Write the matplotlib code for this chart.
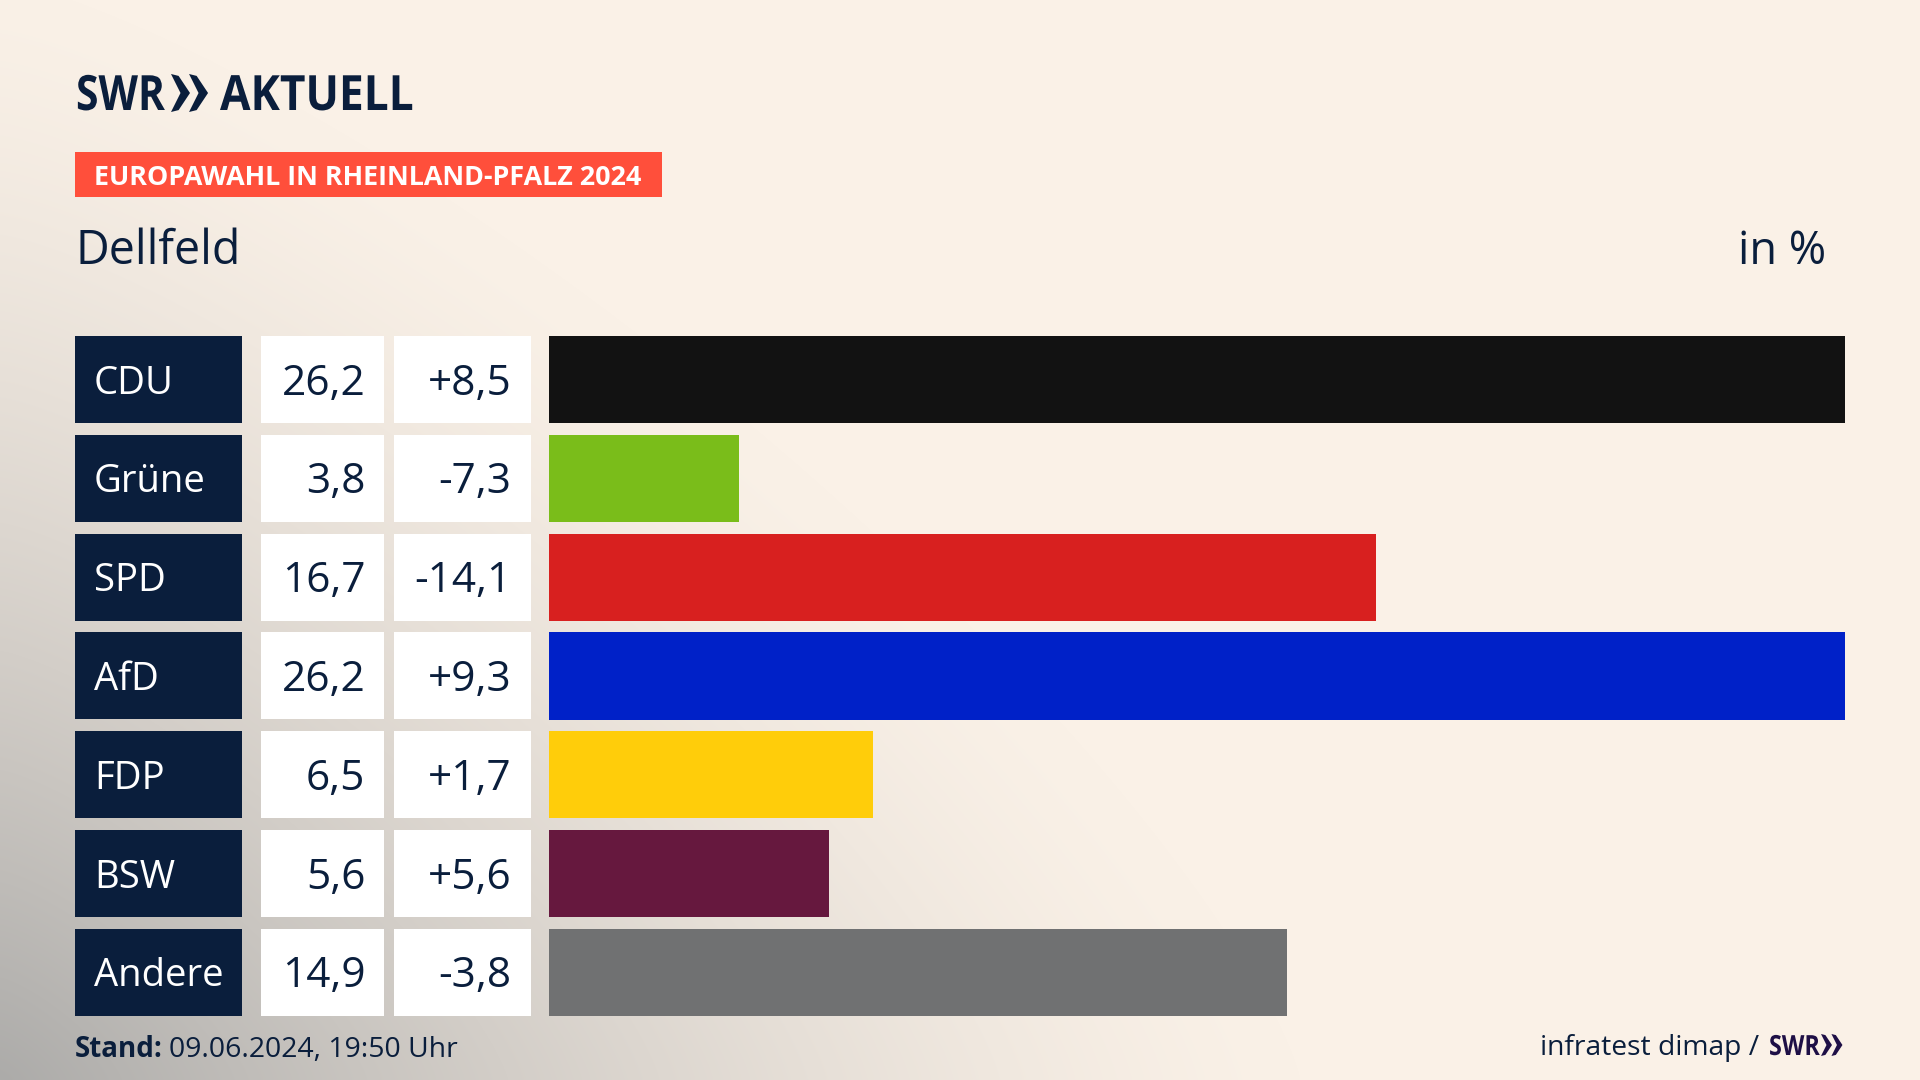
import matplotlib
matplotlib.use('Agg')
import matplotlib.pyplot as plt
from matplotlib.patches import Polygon, Rectangle
from matplotlib.patheffects import AbstractPathEffect
from matplotlib.transforms import Affine2D
import numpy as np

parties = ["CDU", "Grüne", "SPD", "AfD", "FDP", "BSW", "Andere"]
share_labels = ["26,2", "3,8", "16,7", "26,2", "6,5", "5,6", "14,9"]
change_labels = ["+8,5", "-7,3", "-14,1", "+9,3", "+1,7", "+5,6", "-3,8"]
# bar lengths, a bit finer than the printed labels
bar_values = [26.2, 3.84, 16.72, 26.2, 6.55, 5.66, 14.92]
colors = ["#121212", "#7ABD1A", "#D8201F", "#0021C8", "#FFCD0A", "#66183E", "#707172"]

NAVY = "#0A1E3C"
FONT = "Open Sans"
W, H = 1920, 1080

fig = plt.figure(figsize=(19.2, 10.8), dpi=100)

# overlay in pixel coords for background, labels and cells
ax = fig.add_axes([0, 0, 1, 1])
ax.set_xlim(0, W)
ax.set_ylim(H, 0)
ax.axis('off')

# background: cream with grey fade out of the lower left corner
yy, xx = np.mgrid[0:H, 0:W]
cream = np.array([250, 241, 231]) / 255
grey = np.array([172, 171, 169]) / 255
p = 1.3
dist = ((xx / 1300) ** p + ((H - yy) / 1100) ** p) ** (1 / p)
t = np.clip(1 - dist, 0, 1) ** 1.4
bg = cream[None, None, :] * (1 - t[..., None]) + grey[None, None, :] * t[..., None]
ax.imshow(bg, extent=(0, W, H, 0), aspect='auto', zorder=0)


class Squeeze(AbstractPathEffect):
    # narrows text horizontally around its left edge, the logo font is condensed
    def __init__(self, sx, x0):
        super().__init__()
        self.sx = sx
        self.x0 = x0

    def draw_path(self, renderer, gc, tpath, affine, rgbFace=None):
        squeeze = Affine2D().translate(-self.x0, 0).scale(self.sx, 1).translate(self.x0, 0)
        renderer.draw_path(gc, tpath, affine + squeeze, rgbFace)


def chevrons(x0, y0, h, color):
    # double arrow of the SWR logo
    w = h * 0.5
    for off in (0, w * 0.95):
        pts = [(x0 + off, y0), (x0 + off + w * 0.4, y0 + h * 0.05), (x0 + off + w, y0 + h / 2),
               (x0 + off + w * 0.4, y0 + h * 0.95), (x0 + off, y0 + h), (x0 + off + w * 0.5, y0 + h / 2)]
        ax.add_patch(Polygon(pts, closed=True, color=color, lw=0, zorder=3))


def logo_text(x, y, s, size, sx, color):
    ax.text(x, y, s, fontsize=size, family=FONT, weight='bold', color=color, va='baseline', ha='left',
            path_effects=[Squeeze(sx, x)])


# header
logo_text(76, 110, "SWR", 35, 0.84, NAVY)
chevrons(171, 74, 38, NAVY)
logo_text(220, 110, "AKTUELL", 35, 0.91, NAVY)
ax.add_patch(Rectangle((75, 152), 587, 45, color="#FF4F3B", lw=0, zorder=2))
ax.text(94, 185, "EUROPAWAHL IN RHEINLAND-PFALZ 2024", fontsize=19.4, family=FONT, weight='bold',
        color="white", va='baseline', ha='left', zorder=3)
ax.text(75, 264, "Dellfeld", fontsize=33.5, family=FONT, color=NAVY, va='baseline', ha='left')
ax.text(1826, 264, "in %", fontsize=32.5, family=FONT, color=NAVY, va='baseline', ha='right')

# table cells left of the bars
row_top = 336
row_pitch = 98.8
row_h = 87
for i, (party, share, change) in enumerate(zip(parties, share_labels, change_labels)):
    top = row_top + i * row_pitch
    ax.add_patch(Rectangle((75, top), 167, row_h, color=NAVY, lw=0, zorder=2))
    ax.add_patch(Rectangle((261, top), 123, row_h, color="white", lw=0, zorder=2))
    ax.add_patch(Rectangle((394, top), 137, row_h, color="white", lw=0, zorder=2))
    ax.text(94, top + 57.5, party, fontsize=27.5, family=FONT, color="white", va='baseline', ha='left', zorder=3)
    ax.text(365.5, top + 58.5, share, fontsize=30.5, family=FONT, color=NAVY, va='baseline', ha='right', zorder=3)
    ax.text(511.5, top + 58.5, change, fontsize=30.5, family=FONT, color=NAVY, va='baseline', ha='right', zorder=3)

# bars, scaled so the largest value fills the width
bar_ax = fig.add_axes([549 / W, 1 - 1016 / H, (1845 - 549) / W, (1016 - 336) / H])
bar_ax.patch.set_alpha(0)
bar_ax.barh(range(len(parties)), bar_values, height=0.881, color=colors)
bar_ax.set_xlim(0, max(bar_values))
bar_ax.set_ylim(6.44, -0.44)
bar_ax.axis('off')

# footer
ax.text(75, 1057, "Stand:", fontsize=20, family=FONT, weight='bold', color=NAVY, va='baseline', ha='left')
ax.text(169, 1057, "09.06.2024, 19:50 Uhr", fontsize=20.4, family=FONT, color=NAVY, va='baseline', ha='left')
ax.text(1759, 1055, "infratest dimap /", fontsize=20.3, family=FONT, color=NAVY, va='baseline', ha='right')
logo_text(1769, 1055, "SWR", 20, 0.84, "#1E0F46")
chevrons(1821, 1034, 22, "#1E0F46")

fig.savefig("out.png", dpi=100)
